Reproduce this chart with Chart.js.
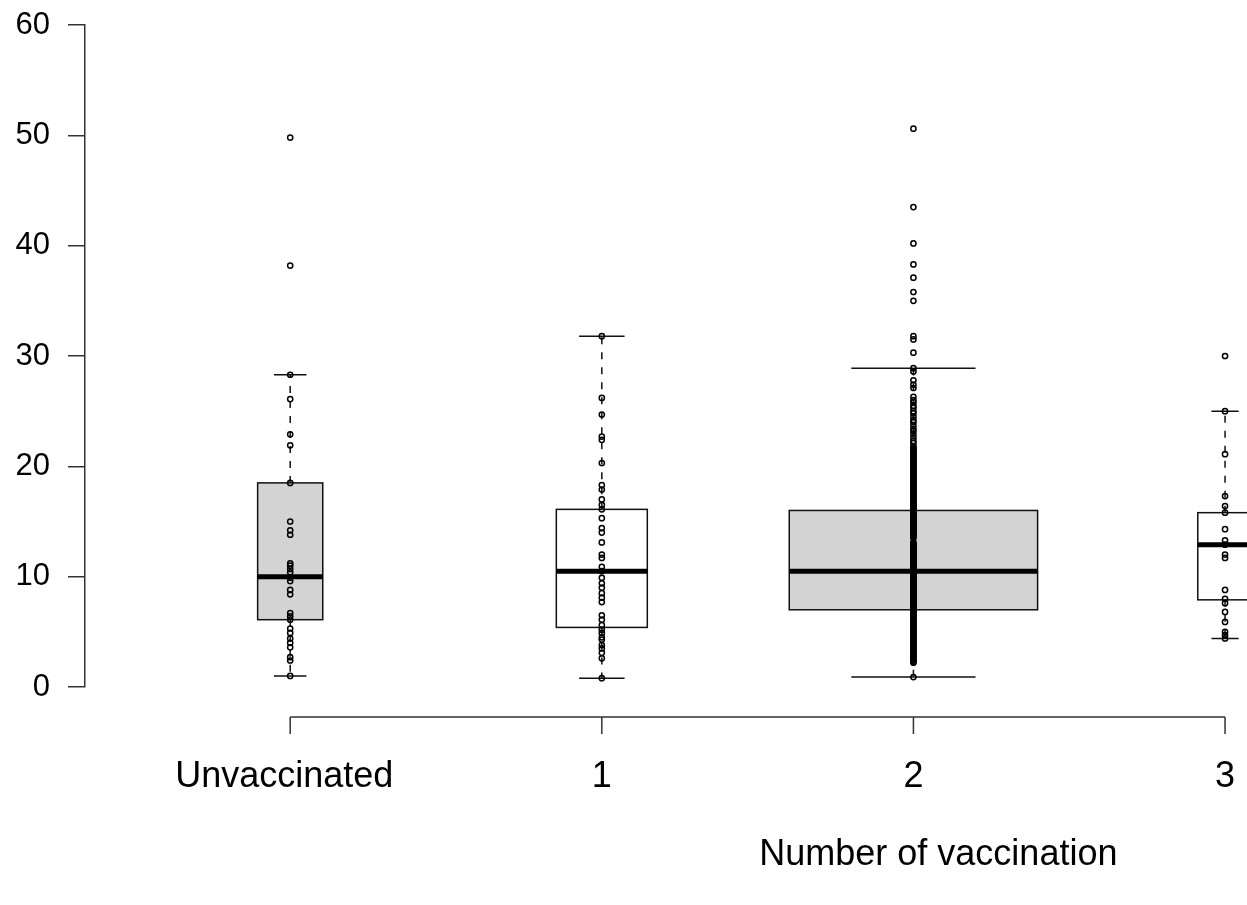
<!DOCTYPE html>
<html>
<head>
<meta charset="utf-8">
<script src="https://cdn.jsdelivr.net/npm/chart.js@4/dist/chart.umd.min.js"></script>
<style>
  html,body{margin:0;padding:0;background:#fff;}
  #wrap{width:1247px;height:905px;}
</style>
</head>
<body>
<div id="wrap"><canvas id="boxChart" width="1247" height="905"></canvas></div>
<script>
// data
const groups = ['Unvaccinated', '1', '2', '3'];
const whiskerLow  = [1.0, 0.8, 0.9, 4.4];
const quart1      = [6.1, 5.4, 7.0, 7.9];
const medians     = [10.0, 10.5, 10.5, 12.9];
const quart3      = [18.5, 16.1, 16.0, 15.8];
const whiskerHigh = [28.3, 31.8, 28.9, 25.0];

const pointsUnvacc = [49.8, 38.2, 28.3, 26.1, 22.9, 21.9, 18.5, 15.0, 14.2, 13.8, 11.2, 11.0, 10.7, 10.4, 9.9,
    9.6, 8.8, 8.4, 6.7, 6.4, 6.1, 5.3, 4.9, 4.4, 4.0, 3.6, 2.7, 2.4, 1.0];
const pointsOne = [31.8, 26.2, 24.7, 22.7, 22.4, 20.3, 18.3, 17.9, 17.0, 16.5, 16.1, 15.3, 14.4, 14.0, 13.1, 12.0,
    11.7, 10.9, 10.5, 9.9, 9.4, 9.0, 8.5, 8.1, 7.7, 6.5, 6.1, 5.6, 5.2, 4.9, 4.5, 4.3, 3.8, 3.5, 3.1, 2.6, 0.8];
// group 2 is a solid column of tied values below ~22
const pointsTwo = [50.6, 43.5, 40.2, 38.3, 37.1, 35.8, 35.0, 31.8, 31.5, 30.3, 28.9, 28.6, 27.8, 27.4, 27.1,
    26.3, 26.0, 25.8, 25.5, 25.3, 25.0, 24.8, 24.5, 24.2, 24.0, 23.7, 23.4, 23.2, 22.9, 22.6, 22.3, 22.1,
    21.8, 21.7, 21.6, 21.5, 21.4, 21.3, 21.2, 21.1, 21.0, 20.9, 20.8, 20.7, 20.6, 20.5, 20.4, 20.3, 20.2, 20.1,
    20.0, 19.9, 19.8, 19.7, 19.6, 19.5, 19.4, 19.3, 19.2, 19.1, 19.0, 18.9, 18.8, 18.7, 18.6, 18.5, 18.4, 18.3,
    18.2, 18.1, 18.0, 17.9, 17.8, 17.7, 17.6, 17.5, 17.4, 17.3, 17.2, 17.1, 17.0, 16.9, 16.8, 16.7, 16.6, 16.5,
    16.4, 16.3, 16.2, 16.1, 16.0, 15.9, 15.8, 15.7, 15.6, 15.5, 15.4, 15.3, 15.2, 15.1, 15.0, 14.9, 14.8, 14.7,
    14.6, 14.5, 14.4, 14.3, 14.2, 14.1, 14.0, 13.9, 13.8, 13.7, 13.6, 13.5, 13.1, 13.0, 12.9, 12.8, 12.7, 12.6,
    12.5, 12.4, 12.3, 12.2, 12.1, 12.0, 11.9, 11.8, 11.7, 11.6, 11.5, 11.4, 11.3, 11.2, 11.1, 11.0, 10.9, 10.8,
    10.7, 10.6, 10.5, 10.4, 10.3, 10.2, 10.1, 10.0, 9.9, 9.8, 9.7, 9.6, 9.5, 9.4, 9.3, 9.2, 9.1, 9.0, 8.9, 8.8,
    8.7, 8.6, 8.5, 8.4, 8.3, 8.2, 8.1, 8.0, 7.9, 7.8, 7.7, 7.6, 7.5, 7.4, 7.3, 7.2, 7.1, 7.0, 6.9, 6.8, 6.7, 6.6,
    6.5, 6.4, 6.3, 6.2, 6.1, 6.0, 5.9, 5.8, 5.7, 5.6, 5.5, 5.4, 5.3, 5.2, 5.1, 5.0, 4.9, 4.8, 4.7, 4.6, 4.5, 4.4,
    4.3, 4.2, 4.1, 4.0, 3.9, 3.8, 3.7, 3.6, 3.5, 3.4, 3.3, 3.2, 3.1, 3.0, 2.9, 2.8, 2.7, 2.6, 2.5, 2.4, 2.3, 2.2,
    0.9];
const pointsThree = [30.0, 25.0, 21.1, 17.3, 16.4, 15.8, 14.3, 13.3, 12.9, 12.0, 11.7, 8.8, 8.0, 7.6, 6.8, 5.9,
    5.0, 4.7, 4.4];
const groupPoints = [pointsUnvacc, pointsOne, pointsTwo, pointsThree];

const yTicks = [0, 10, 20, 30, 40, 50, 60];
const xTitle = 'Number of vaccination';

// styles (box widths in x units, varwidth look)
const boxWidths = [0.209, 0.292, 0.797, 0.175];
const boxFills = ['#d3d3d3', '#ffffff', '#d3d3d3', '#ffffff'];
const FONT = '"Liberation Sans", Arial, sans-serif';
const AXIS_COL = '#333';

// boxes + whiskers drawn under the points, through the chart scales
const boxPlugin = {
    id: 'boxes',
    beforeDatasetsDraw(chart){
        const ctx = chart.ctx, xs = chart.scales.x, ys = chart.scales.y;
        groups.forEach((g,i)=>{
            const cx = xs.getPixelForValue(i+1);
            const left = xs.getPixelForValue(i+1-boxWidths[i]/2);
            const right = xs.getPixelForValue(i+1+boxWidths[i]/2);
            const capL = xs.getPixelForValue(i+1-boxWidths[i]/4);
            const capR = xs.getPixelForValue(i+1+boxWidths[i]/4);
            const yLo = ys.getPixelForValue(whiskerLow[i]);
            const yQ1 = ys.getPixelForValue(quart1[i]);
            const yMed = ys.getPixelForValue(medians[i]);
            const yQ3 = ys.getPixelForValue(quart3[i]);
            const yHi = ys.getPixelForValue(whiskerHigh[i]);
            ctx.save();
            ctx.strokeStyle = '#111';
            ctx.lineWidth = 1.5;
            // dashed whiskers
            ctx.setLineDash([7,8]);
            ctx.beginPath();
            ctx.moveTo(cx,yQ3); ctx.lineTo(cx,yHi);
            ctx.moveTo(cx,yQ1); ctx.lineTo(cx,yLo);
            ctx.stroke();
            ctx.setLineDash([]);
            // caps
            ctx.beginPath();
            ctx.moveTo(capL,yHi); ctx.lineTo(capR,yHi);
            ctx.moveTo(capL,yLo); ctx.lineTo(capR,yLo);
            ctx.stroke();
            // box
            ctx.fillStyle = boxFills[i];
            ctx.fillRect(left,yQ3,right-left,yQ1-yQ3);
            ctx.strokeRect(left,yQ3,right-left,yQ1-yQ3);
            // median
            ctx.lineWidth = 5;
            ctx.strokeStyle = '#000';
            ctx.beginPath();
            ctx.moveTo(left,yMed); ctx.lineTo(right,yMed);
            ctx.stroke();
            ctx.restore();
        });
    }
};

// R style x axis, offset below the plot
const xAxisPlugin = {
    id: 'xaxis',
    afterDraw(chart){
        const ctx = chart.ctx, xs = chart.scales.x;
        const yLine = chart.chartArea.bottom + 30;
        const x0 = xs.getPixelForValue(1), x1 = xs.getPixelForValue(groups.length);
        ctx.save();
        ctx.strokeStyle = AXIS_COL;
        ctx.lineWidth = 1.5;
        ctx.beginPath();
        ctx.moveTo(x0,yLine); ctx.lineTo(x1,yLine);
        groups.forEach((g,i)=>{
            const px = xs.getPixelForValue(i+1);
            ctx.moveTo(px,yLine); ctx.lineTo(px,yLine+17);
        });
        ctx.stroke();
        ctx.fillStyle = '#000';
        ctx.font = '36px ' + FONT;
        ctx.textAlign = 'center';
        ctx.textBaseline = 'middle';
        groups.forEach((g,i)=>{
            const off = i === 0 ? -6 : 0;
            ctx.fillText(g, xs.getPixelForValue(i+1) + off, yLine+60);
        });
        ctx.fillText(xTitle, xs.getPixelForValue(3.08), yLine+138);
        ctx.restore();
    }
};

const datasets = groupPoints.map((pts,i)=>({
    label: groups[i],
    data: pts.map(v=>({x:i+1, y:v})),
    pointRadius: 2.6,
    pointBorderWidth: 1.5,
    pointBorderColor: '#000',
    pointBackgroundColor: 'rgba(0,0,0,0)',
    showLine: false
}));

const chart = new Chart(document.getElementById('boxChart').getContext('2d'), {
    type: 'scatter',
    data: {datasets: datasets},
    plugins: [boxPlugin, xAxisPlugin],
    options: {
        responsive: false,
        animation: false,
        devicePixelRatio: 1,
        layout: {padding: {top: 25, bottom: 218, left: 0, right: 0}},
        plugins: {legend: {display: false}, tooltip: {enabled: false}},
        scales: {
            x: {type: 'linear', display: false, min: 0.3415, max: 4.0528},
            y: {
                type: 'linear', min: yTicks[0], max: yTicks[yTicks.length-1],
                afterFit: s=>{ s.width = 85; s.paddingTop = 0; s.paddingBottom = 0; },
                afterBuildTicks: s=>{ s.ticks = yTicks.map(v=>({value:v})); },
                border: {display: true, color: AXIS_COL, width: 1.5},
                grid: {drawOnChartArea: false, drawTicks: true, tickLength: 17, color: AXIS_COL, lineWidth: 1.5},
                ticks: {padding: 18, color: '#000', font: {family: FONT, size: 31}}
            }
        }
    }
});
</script>
</body>
</html>
